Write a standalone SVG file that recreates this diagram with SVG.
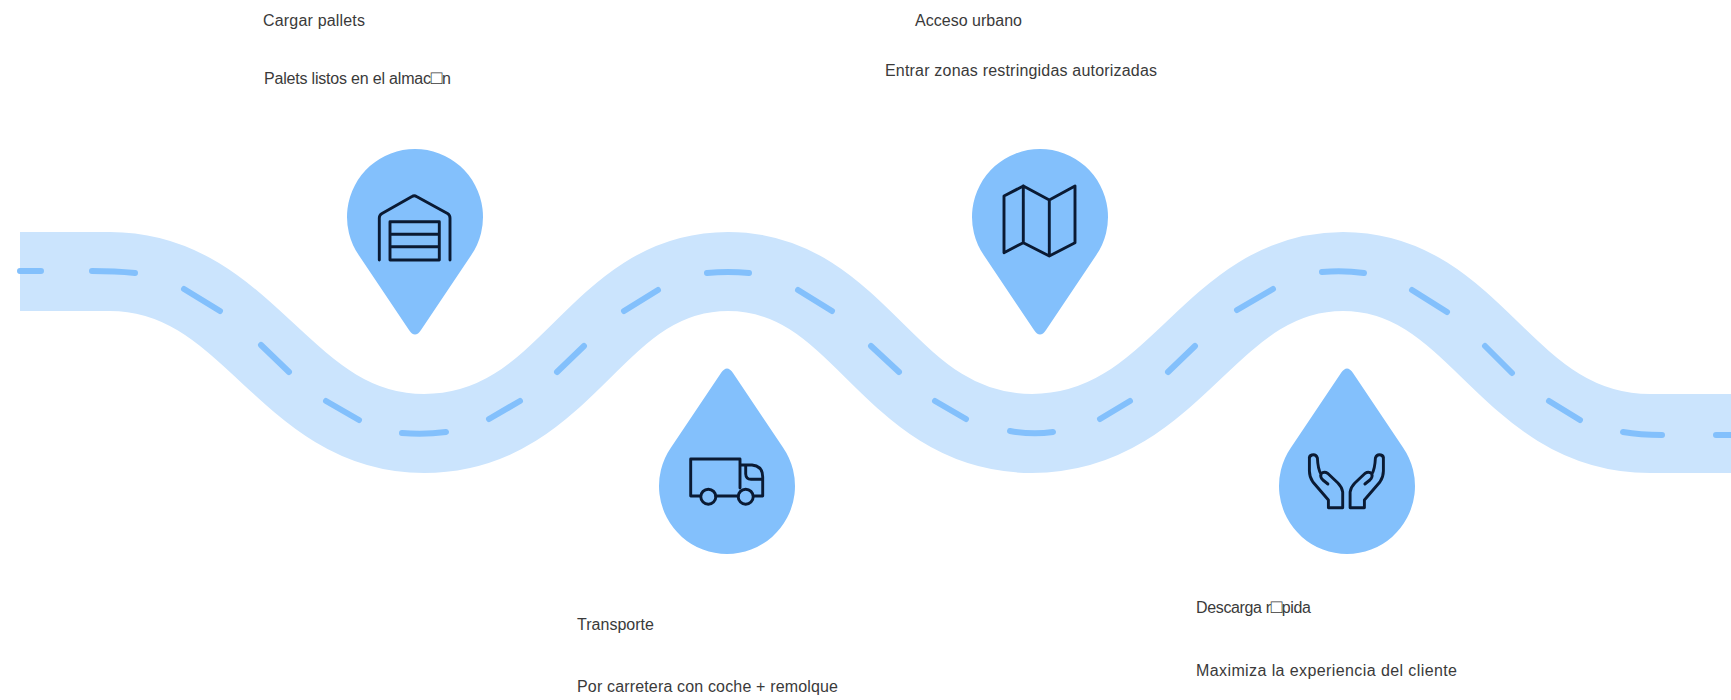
<svg xmlns="http://www.w3.org/2000/svg" width="1731" height="700" viewBox="0 0 1731 700">
<style>
.t{font-family:"Liberation Sans",Arial,sans-serif;font-size:16px;fill:#3a3a3a}
.tofu{font-size:19px}
.pin{fill:#83c0fc}
.i{fill:none;stroke:#0a1a33;stroke-width:2.9;stroke-linejoin:round;stroke-linecap:round}
</style>
<defs>
<path id="pinShape" d="M-6 113L-56 38.600A68 68 0 1 1 56 38.600L6 113Q0 122 -6 113Z"/>
<path id="dropShape" d="M-6 -113L-56 -38.600A68 68 0 1 0 56 -38.600L6 -113Q0 -122 -6 -113Z"/>
<path id="hand" d="M-18 21.700H-3.700V6Q-4.500 1 -8.500 -3L-18.500 -12.500Q-22.500 -15 -25.500 -12Q-28.500 -17 -29 -28Q-30.500 -32 -34.500 -31Q-37.500 -30 -37 -27L-37 -15Q-37 -9 -33.500 -4L-18 14ZM-25.500 -12Q-26.500 -9 -23.500 -6L-18.500 -2"/>
</defs>
<g id="road">
<path fill="none" stroke="#cbe4fd" stroke-width="79" d="M20 271.500H110C250 271.500 284 433.500 424 433.500C569 433.500 593 271.500 728 271.500C863 271.500 887 433.500 1032 433.500C1177 433.500 1208 271.500 1343 271.500C1478 271.500 1505 433.500 1650 433.500H1731"/>
<path fill="none" stroke="#83c0fc" stroke-width="6" stroke-linecap="round" d="M20 271H41M92 271Q115 271 135 273M184 289L220 311M261 345L289 372M326 401L359 420M402 433Q424 435 446 432M489 419L520 401M557 372L584 346M624 311L658 290M707 273Q728 271 749 273M798 290L832 311M871 346L899 372M935 401L966 419M1010 431Q1032 435 1053 432M1100 419L1130 401M1168 372L1195 346M1237 310L1273 289M1322 272Q1343 270 1364 273M1412 290L1447 312M1485 346L1512 373M1549 401L1580 420M1623 432Q1640 435 1662 435M1716 435H1731"/>
</g>
<g id="node-cargar" transform="translate(415 217)">
<use href="#pinShape" class="pin"/>
<path class="i" d="M-35.700 43V1Q-35.700 -2 -33 -3.500L-3 -20.500Q-.7 -22 1.500 -20.500L32.500 -3.500Q35 -2 35 1V43"/>
<path class="i" d="M-25 4.700H24.300V43H-25ZM-25 17.300H24.300M-25 29.700H24.300"/>
</g>
<g id="node-acceso" transform="translate(1040 217)">
<use href="#pinShape" class="pin"/>
<path class="i" d="M-36 -21L-16.700 -31L9.300 -17L35 -31V25.700L9.300 39L-16.700 25.700L-36 35.700ZM-16.700 -31V25.700M9.300 -17V39"/>
</g>
<g id="node-transporte" transform="translate(727 486)">
<use href="#dropShape" class="pin"/>
<path class="i" d="M-26.300 10H-36.300V-27H13V2M-11.300 10H11.300M13 -21H25Q35.700 -20 35.700 -9V10H26.300M18.700 -20V-12Q19 -6.700 24 -6.700H35"/>
<circle class="i" cx="-18.700" cy="10.700" r="7.500"/><circle class="i" cx="18.700" cy="10.700" r="7.500"/>
</g>
<g id="node-descarga" transform="translate(1347 486)">
<use href="#dropShape" class="pin"/>
<use href="#hand" class="i" transform="translate(-.6 0)"/>
<use href="#hand" class="i" transform="translate(-.6 0) scale(-1 1)"/>
</g>
<g id="labels">
<text class="t" x="263" y="26" textLength="102">Cargar pallets</text>
<text class="t" x="264" y="84" textLength="187">Palets listos en el almac<tspan class="tofu">□</tspan>n</text>
<text class="t" x="915" y="26" textLength="107">Acceso urbano</text>
<text class="t" x="885" y="76" textLength="272">Entrar zonas restringidas autorizadas</text>
<text class="t" x="577" y="630" textLength="77">Transporte</text>
<text class="t" x="577" y="692" textLength="261">Por carretera con coche + remolque</text>
<text class="t" x="1196" y="613" textLength="115">Descarga r<tspan class="tofu">□</tspan>pida</text>
<text class="t" x="1196" y="676" textLength="261">Maximiza la experiencia del cliente</text>
</g>
</svg>
